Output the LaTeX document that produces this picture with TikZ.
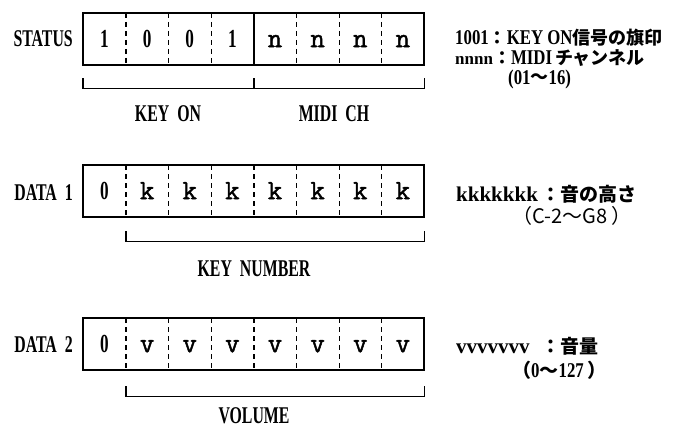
\documentclass[tikz,border=0pt]{standalone}
\usepackage{fontspec}
\newfontfamily\condfont[FakeStretch=0.66]{Liberation Serif}
\newfontfamily\notecond[FakeStretch=0.8]{Liberation Serif}
\newfontfamily\cellfont[FakeBold=1.6]{Latin Modern Mono}
\newfontfamily\notefont{Liberation Serif}
\newfontfamily\jp{Noto Sans CJK JP}
\newcommand{\jpb}{\jp\bfseries\fontsize{19}{19}\selectfont}
\newcommand{\jpr}{\jp\fontsize{19}{19}\selectfont}
\newcommand{\jpbs}{\jp\bfseries\fontsize{18}{18}\selectfont}
\newcommand{\jprs}{\jp\fontsize{18}{18}\selectfont}
\begin{document}
\begin{tikzpicture}[x=1pt,y=-1pt,
  cell/.style={minimum width=42.625pt,minimum height=52pt,inner sep=0pt,anchor=north west,
    text height=21pt,text depth=5pt},
  digit/.style={cell,font=\condfont\bfseries\fontsize{26}{26}\selectfont},
  letter/.style={cell,font=\cellfont\fontsize{28}{28}\selectfont},
  lab/.style={inner sep=0pt,anchor=base,font=\condfont\bfseries\fontsize{24}{24}\selectfont},
  rt/.style={inner sep=0pt,anchor=base west,font=\notecond\bfseries\fontsize{21}{21}\selectfont},
  box/.style={draw=black,line width=2pt},
  divider/.style={draw=black,line width=1.3pt,dash pattern=on 5pt off 4pt},
  bracket/.style={draw=black,line width=1.5pt}]
\useasboundingbox (0,0) rectangle (690,428);

% STATUS byte
\foreach \i/\t in {1/1,2/0,3/0,4/1}
  \node[digit] (s\i) at ({83+(\i-1)*42.625},13) {\t};
\foreach \i in {5,6,7,8}
  \node[letter] (s\i) at ({83+(\i-1)*42.625},13) {n};
\draw[box] (s1.north west) rectangle (s8.south east);
\draw[box] (s4.north east) -- (s4.south east);
\foreach \i in {1,2,3,5,6,7}
  \draw[divider] (s\i.north east) -- (s\i.south east);
\node[lab,anchor=base east] (status) at (73,47) {STATUS};
\draw[bracket] ([yshift=-13pt]s1.south west) -- ([yshift=-23pt]s1.south west)
  -- ([yshift=-23pt]s8.south east) -- ([yshift=-13pt]s8.south east);
\draw[bracket] ([yshift=-13pt]s4.south east) -- ([yshift=-23pt]s4.south east);
\node[lab] (keyon) at (168,121) {KEY\hspace{4pt} ON};
\node[lab] (midich) at (334,121) {MIDI\hspace{4pt} CH};

% DATA 1 byte
\node[digit] (d1) at (83,165) {0};
\foreach \i in {2,...,8}
  \node[letter] (d\i) at ({83+(\i-1)*42.625},165) {k};
\draw[box] (d1.north west) rectangle (d8.south east);
\foreach \i in {1,...,7}
  \draw[divider] (d\i.north east) -- (d\i.south east);
\node[lab,anchor=base east] (data1) at (73,200) {DATA\hspace{4pt} 1};
\draw[bracket] ([yshift=-14pt]d1.south east) -- ([yshift=-24pt]d1.south east)
  -- ([yshift=-24pt]d8.south east) -- ([yshift=-14pt]d8.south east);
\node[lab] (keynum) at (254,276) {KEY\hspace{4pt} NUMBER};

% DATA 2 byte
\node[digit] (e1) at (83,318) {0};
\foreach \i in {2,...,8}
  \node[letter] (e\i) at ({83+(\i-1)*42.625},318) {v};
\draw[box] (e1.north west) rectangle (e8.south east);
\foreach \i in {1,...,7}
  \draw[divider] (e\i.north east) -- (e\i.south east);
\node[lab,anchor=base east] (data2) at (73,352) {DATA\hspace{4pt} 2};
\draw[bracket] ([yshift=-16pt]e1.south east) -- ([yshift=-26pt]e1.south east)
  -- ([yshift=-26pt]e8.south east) -- ([yshift=-16pt]e8.south east);
\node[lab] (volume) at (254,423) {VOLUME};

% right-hand notes
\node[rt] (n1) at (455,44.5) {1001{\jpbs ：}KEY ON{\jpbs 信号の旗印}};
\node[rt] (n2) at (455,64.5) {{\notefont\bfseries\fontsize{17}{17}\selectfont nnnn}{\jpbs ：}MIDI{\jprs\,チャンネル}};
\node[rt] (n3) at (508,84) {(01\raisebox{1pt}{\jprs 〜}16)};
\node[rt,font=\notefont\bfseries\fontsize{21}{21}\selectfont] (n4) at (456,201)
  {\makebox[85pt][l]{kkkkkkk}{\jpb ：音の高さ}};
\node[rt,font=\jp\fontsize{20}{20}\selectfont] (n5) at (512,223) {（C-2〜G8 ）};
\node[rt,font=\notefont\bfseries\fontsize{21}{21}\selectfont] (n6) at (456,353)
  {\makebox[85pt][l]{vvvvvvv}{\jpb ：音量}};
\node[rt] (n7) at (512,377) {{\jpr （}0{\jpr 〜}127\,{\jpr ）}};
\end{tikzpicture}
\end{document}
